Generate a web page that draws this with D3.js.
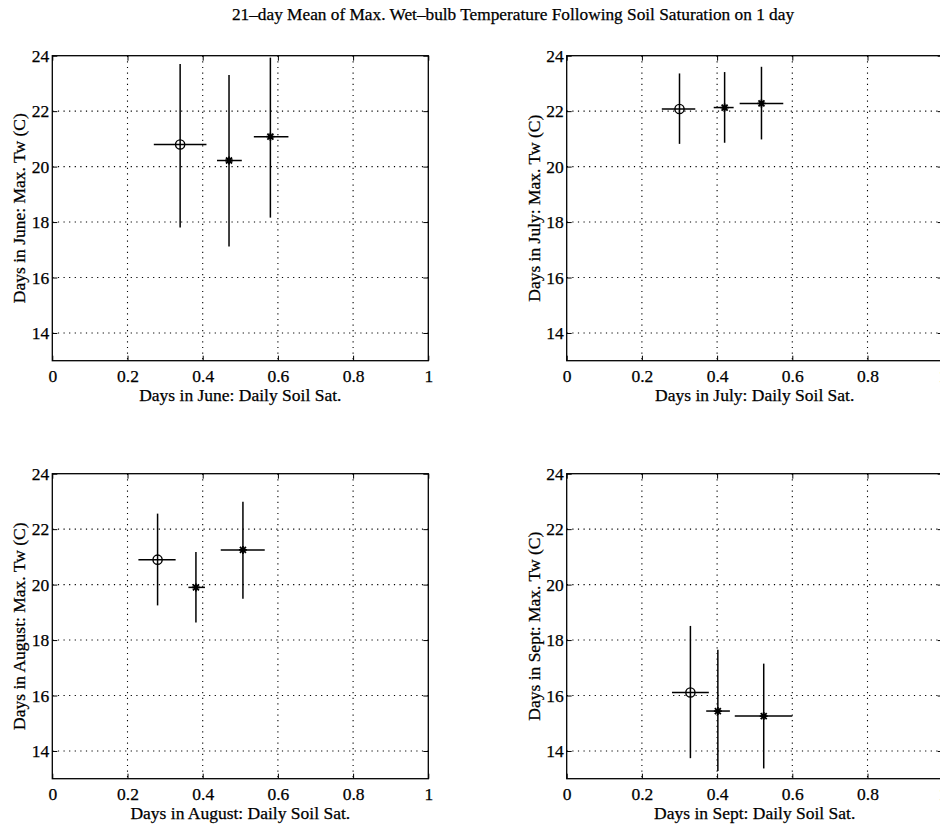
<!DOCTYPE html>
<html>
<head>
<meta charset="utf-8">
<script src="https://cdn.jsdelivr.net/npm/d3@7"></script>
<style>
  html, body { margin: 0; padding: 0; background: #fff; }
  svg { display: block; font-family: "Liberation Serif", "Times New Roman", serif; }
  text { stroke: #000; stroke-width: 0.25px; }
</style>
</head>
<body>
<svg id="chart" width="940" height="825"></svg>
<script>
// Months shown, one panel each
const months = ["June", "July", "August", "Sept"];

// Point markers for the three composites in every panel
const markers = ["o", "*", "*"];

// Daily soil saturation (x): mean and range per composite
const xMean = [
  [0.34, 0.47, 0.58],
  [0.30, 0.42, 0.518],
  [0.28, 0.382, 0.507],
  [0.329, 0.402, 0.524]
];
const xLow = [
  [0.27, 0.438, 0.536],
  [0.253, 0.391, 0.46],
  [0.229, 0.362, 0.448],
  [0.28, 0.371, 0.447]
];
const xHigh = [
  [0.41, 0.504, 0.628],
  [0.342, 0.444, 0.576],
  [0.328, 0.406, 0.565],
  [0.378, 0.434, 0.60]
];

// 21-day mean of max. wet-bulb temperature (y): mean and range
const yMean = [
  [20.8, 20.22, 21.08],
  [22.08, 22.13, 22.28],
  [20.9, 19.9, 21.25],
  [16.11, 15.44, 15.26]
];
const yLow = [
  [17.8, 17.12, 18.16],
  [20.82, 20.86, 20.98],
  [19.25, 18.63, 19.49],
  [13.74, 13.28, 13.37]
];
const yHigh = [
  [23.7, 23.3, 23.93],
  [23.36, 23.41, 23.6],
  [22.56, 21.18, 22.99],
  [18.51, 17.65, 17.15]
];

// Axis ticks
const xTicks = [0, 0.2, 0.4, 0.6, 0.8, 1];
const xTickLabels = ["0", "0.2", "0.4", "0.6", "0.8", "1"];
const yTicks = [14, 16, 18, 20, 22, 24];
const yDomain = [13, 24];

const title = "21\u2013day Mean of Max. Wet\u2013bulb Temperature Following Soil Saturation on 1 day";

const svg = d3.select("#chart");
svg.append("rect").attr("width", 940).attr("height", 825).attr("fill", "#fff");

svg.append("text")
  .attr("x", 513).attr("y", 20)
  .attr("text-anchor", "middle")
  .attr("font-size", 17.3)
  .text(title);

// Panel frames: 2 x 2 grid
const panelW = 376, panelH = 305;
const panelX = [52.3, 566.7];
const panelY = [55.7, 473.7];
const fontSize = 17.5;

months.forEach((month, i) => {
  const px = panelX[i % 2], py = panelY[Math.floor(i / 2)];
  const g = svg.append("g").attr("transform", `translate(${px},${py})`);

  const x = d3.scaleLinear().domain([0, 1]).range([0, panelW]);
  const y = d3.scaleLinear().domain(yDomain).range([panelH, 0]);

  // dotted grid
  g.append("g").selectAll("line").data(xTicks.slice(1, -1)).join("line")
    .attr("x1", d => x(d)).attr("x2", d => x(d))
    .attr("y1", 0).attr("y2", panelH)
    .attr("stroke", "#000").attr("stroke-width", 1.1)
    .attr("stroke-dasharray", "1.2,4.4");
  g.append("g").selectAll("line").data(yTicks.slice(0, -1)).join("line")
    .attr("y1", d => y(d)).attr("y2", d => y(d))
    .attr("x1", 0).attr("x2", panelW)
    .attr("stroke", "#000").attr("stroke-width", 1.1)
    .attr("stroke-dasharray", "1.2,4.4");

  // axes with inward ticks on all four sides
  const fmtX = d => xTickLabels[xTicks.indexOf(d)];
  const bottom = g.append("g").attr("transform", `translate(0,${panelH})`)
    .call(d3.axisBottom(x).tickValues(xTicks).tickFormat(fmtX).tickSize(-5).tickSizeOuter(0).tickPadding(9));
  const left = g.append("g")
    .call(d3.axisLeft(y).tickValues(yTicks).tickFormat(d3.format("d")).tickSize(-5).tickSizeOuter(0).tickPadding(3));
  g.append("g")
    .call(d3.axisTop(x).tickValues(xTicks).tickFormat("").tickSize(-5).tickSizeOuter(0));
  g.append("g").attr("transform", `translate(${panelW},0)`)
    .call(d3.axisRight(y).tickValues(yTicks).tickFormat("").tickSize(-5).tickSizeOuter(0));
  g.selectAll(".domain").remove();
  g.selectAll(".tick line").attr("stroke", "#000").attr("stroke-width", 1);
  [bottom, left].forEach(a => a.selectAll("text")
    .attr("font-size", fontSize).attr("fill", "#000")
    .attr("font-family", "'Liberation Serif', 'Times New Roman', serif"));

  // box
  g.append("rect").attr("width", panelW).attr("height", panelH)
    .attr("fill", "none").attr("stroke", "#000").attr("stroke-width", 1.3);

  // axis labels
  g.append("text")
    .attr("x", panelW / 2).attr("y", panelH + 40.5)
    .attr("text-anchor", "middle").attr("font-size", fontSize)
    .text(`Days in ${month}: Daily Soil Sat.`);
  g.append("text")
    .attr("transform", `translate(-27,${panelH / 2}) rotate(-90)`)
    .attr("text-anchor", "middle").attr("font-size", fontSize)
    .text(`Days in ${month}: Max. Tw (C)`);

  // error crosses and markers
  const pts = markers.map((m, k) => ({
    m, x: xMean[i][k], y: yMean[i][k],
    x0: xLow[i][k], x1: xHigh[i][k],
    y0: yLow[i][k], y1: yHigh[i][k]
  }));
  const pg = g.append("g");
  pg.selectAll("line.v").data(pts).join("line").attr("class", "v")
    .attr("x1", d => x(d.x)).attr("x2", d => x(d.x))
    .attr("y1", d => y(d.y0)).attr("y2", d => y(d.y1))
    .attr("stroke", "#000").attr("stroke-width", 1.5);
  pg.selectAll("line.h").data(pts).join("line").attr("class", "h")
    .attr("x1", d => x(d.x0)).attr("x2", d => x(d.x1))
    .attr("y1", d => y(d.y)).attr("y2", d => y(d.y))
    .attr("stroke", "#000").attr("stroke-width", 1.5);

  pts.forEach(d => {
    const cx = x(d.x), cy = y(d.y);
    if (d.m === "o") {
      pg.append("circle").attr("cx", cx).attr("cy", cy).attr("r", 4.6)
        .attr("fill", "none").attr("stroke", "#000").attr("stroke-width", 1.4);
    } else {
      const s = 4;
      const path = d3.path();
      path.moveTo(cx - s, cy); path.lineTo(cx + s, cy);
      path.moveTo(cx, cy - s); path.lineTo(cx, cy + s);
      path.moveTo(cx - s * 0.75, cy - s * 0.75); path.lineTo(cx + s * 0.75, cy + s * 0.75);
      path.moveTo(cx - s * 0.75, cy + s * 0.75); path.lineTo(cx + s * 0.75, cy - s * 0.75);
      pg.append("path").attr("d", path.toString())
        .attr("stroke", "#000").attr("stroke-width", 1.8).attr("fill", "none");
    }
  });
});
</script>
</body>
</html>
